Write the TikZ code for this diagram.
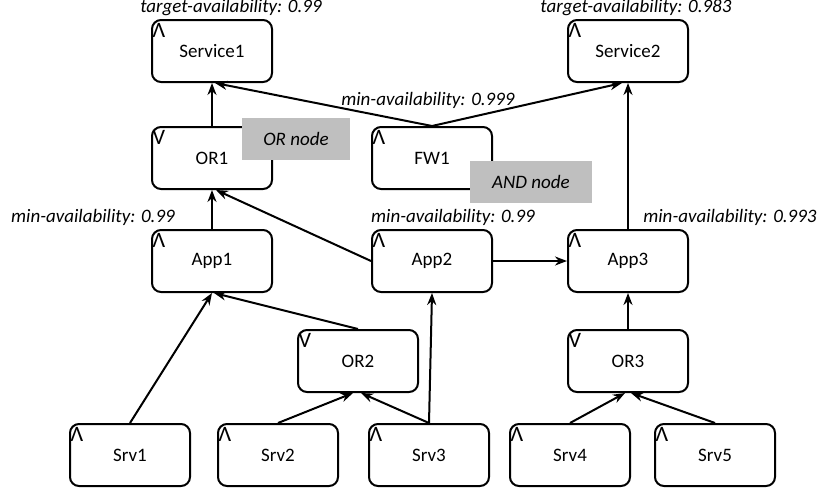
\documentclass[tikz,border=0pt]{standalone}
\usepackage{fontspec}
\setmainfont{Carlito}
\usetikzlibrary{positioning,arrows.meta}

\newcommand{\gatemark}[1]{{\fontsize{22}{22}\selectfont #1}}

\tikzset{
  block/.style={draw, rounded corners=9pt, line width=2pt, minimum width=120pt,
    minimum height=62pt, font=\fontsize{19}{22}\selectfont},
  andblock/.style={block, label={[anchor=north west, inner sep=1.5pt, yshift=-3pt]north west:\gatemark{Λ}}},
  orblock/.style={block, label={[anchor=north west, inner sep=1.5pt, yshift=-3pt]north west:\gatemark{V}}},
  note/.style={fill=black!25, minimum height=42pt, font=\itshape\fontsize{19}{22}\selectfont},
  avail/.style={inner sep=0pt, font=\itshape\fontsize{19}{22}\selectfont},
}

\begin{document}
\begin{tikzpicture}[x=1pt, y=-1pt, >=Stealth]
		\useasboundingbox (0,0) rectangle (818,490);

		\node[andblock] (s1) at (212,51) {Service1};
		\node[andblock] (s2) at (628,51) {Service2};
		\node[orblock] (or1) at (212,158) {OR1};
		\node[andblock] (fw1) at (432,158) {FW1};
		\node[andblock] (a1) at (212,261) {App1};
		\node[andblock] (a2) at (432,261) {App2};
		\node[andblock] (a3) at (628,261) {App3};
		\node[orblock] (or2) at (358,361) {OR2};
		\node[orblock] (or3) at (628,361) {OR3};
		\node[andblock] (srv1) at (130,455) {Srv1};
		\node[andblock] (srv2) at (278,455) {Srv2};
		\node[andblock] (srv3) at (429,455) {Srv3};
		\node[andblock] (srv4) at (570,455) {Srv4};
		\node[andblock] (srv5) at (715,455) {Srv5};

		\node[avail] (t1) at (231,8) {target-availability: 0.99};
		\node[avail] (t2) at (636,8) {target-availability: 0.983};
		\node[avail] (m1) at (428,100) {min-availability: 0.999};
		\node[avail] (m2) at (93,217) {min-availability: 0.99};
		\node[avail] (m3) at (453,217) {min-availability: 0.99};
		\node[avail] (m4) at (730,217) {min-availability: 0.993};

		\path[->, line width=2pt]
		(or1.north) edge (s1.south)
		(fw1.north) edge ([xshift=3pt]s1.south)
		(fw1.north) edge ([xshift=-6pt]s2.south)
		(a3.north) edge (s2.south)
		(a1.north) edge (or1.south)
		(a2.west) edge ([xshift=4pt]or1.south)
		(a2.east) edge (a3.west)
		(or2.north) edge ([xshift=2pt]a1.south)
		(srv1.north) edge (a1.south)
		(srv2.north) edge ([xshift=-5pt]or2.south)
		(srv3.north) edge ([xshift=3pt]or2.south)
		(srv3.north) edge (a2.south)
		(or3.north) edge (a3.south)
		(srv4.north) edge ([xshift=-3pt]or3.south)
		(srv5.north) edge ([xshift=3pt]or3.south);

		\node[note, minimum width=108pt] (ornote) at (296,139) {OR node};
		\node[note, minimum width=122pt] (andnote) at (531,182) {AND node};
	\end{tikzpicture}
\end{document}
